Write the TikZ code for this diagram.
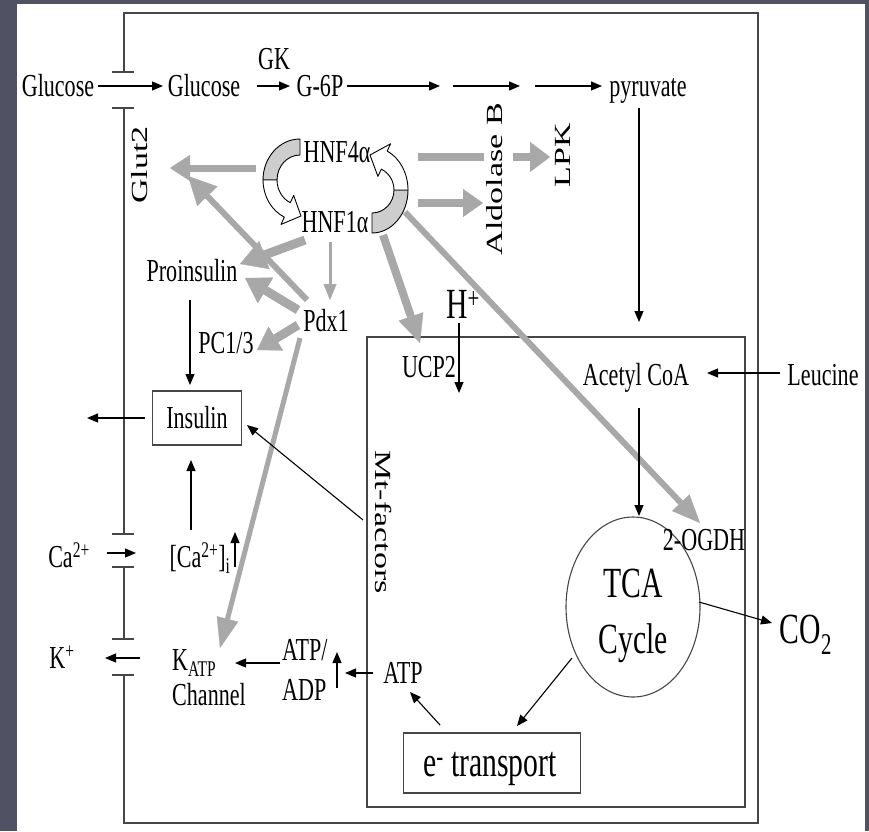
\documentclass[tikz,border=0pt]{standalone}
\usepackage{fontspec}
\setmainfont{Liberation Serif}[FakeStretch=0.69]
\newfontfamily\rotf{Liberation Serif}
\usetikzlibrary{arrows.meta,shapes.geometric,calc}
\definecolor{bgslate}{RGB}{80,82,100}
\definecolor{agray}{RGB}{168,168,168}
\definecolor{lgray}{RGB}{70,70,70}
\definecolor{ribgray}{RGB}{205,205,205}
\begin{document}
\begin{tikzpicture}[x=1pt,y=-1pt,
  txt/.style={inner sep=0pt, font=\fontsize{32}{38}\selectfont},
  bigtxt/.style={inner sep=0pt, font=\fontsize{43}{50}\selectfont},
  rtxt/.style={inner sep=0pt, font=\rotf\fontsize{34}{40}\selectfont},
  bar/.style={draw=lgray, line width=1.1pt},
  barr/.style={draw=black, line width=1.1pt, -{Triangle[length=11pt,width=9pt]}},
  garr/.style n args={3}{draw=agray, line width=#1, -{Triangle[length=#2,width=#3,line width=0.3pt]}},
  rib/.style={draw=black, line width=0.9pt, line join=round}
]
\useasboundingbox (0,0) rectangle (869,831);
\fill[bgslate] (0,0) rectangle (869,831);
\fill[white] (17,4) rectangle (865,831);

% ---- cell membrane and mitochondrion ----
\draw[bar] (124,72) -- (124,13) -- (758,13) -- (758,823) -- (124,823) -- (124,675);
\draw[bar] (124,108) -- (124,534);
\draw[bar] (124,567) -- (124,639);
\foreach \yy in {72,108,534,567,639,675} \draw[bar] (112,\yy) -- (134,\yy);
\draw[bar] (367,337) rectangle (745,807);

% ---- gray regulatory arrows ----
\coordinate (g1s) at (256,168); \coordinate (g1e) at (170,168);
\draw[garr={7pt}{20pt}{26pt}] (g1s) -- (g1e);
\draw[draw=agray, line width=8pt] (418,157) -- (484,157);
\coordinate (g2s) at (513,157); \coordinate (g2e) at (550,157);
\draw[garr={8pt}{20pt}{30pt}] (g2s) -- (g2e);
\coordinate (g3s) at (418,203); \coordinate (g3e) at (483,203);
\draw[garr={8pt}{20pt}{28pt}] (g3s) -- (g3e);
\coordinate (g4s) at (305,240); \coordinate (g4e) at (240,264);
\draw[garr={9pt}{26pt}{30pt}] (g4s) -- (g4e);
\coordinate (g5s) at (298,310); \coordinate (g5e) at (245,278);
\draw[garr={9pt}{24pt}{30pt}] (g5s) -- (g5e);
\coordinate (g6s) at (307,300); \coordinate (g6e) at (188,176);
\draw[garr={6pt}{28pt}{28pt}] (g6s) -- (g6e);
\coordinate (g7s) at (298,325); \coordinate (g7e) at (257,350);
\draw[garr={9pt}{22pt}{28pt}] (g7s) -- (g7e);
\coordinate (g8s) at (330,242); \coordinate (g8e) at (330,300);
\draw[garr={3pt}{16pt}{13pt}] (g8s) -- (g8e);
\coordinate (g9s) at (383,235); \coordinate (g9e) at (420,343);
\draw[garr={8pt}{28pt}{26pt}] (g9s) -- (g9e);
\coordinate (g10s) at (405,212); \coordinate (g10e) at (700,523);
\draw[garr={6pt}{28pt}{24pt}] (g10s) -- (g10e);
\coordinate (g11s) at (300,338); \coordinate (g11e) at (220,648);
\draw[garr={5pt}{30pt}{22pt}] (g11s) -- (g11e);

% ---- HNF ribbons ----
\coordinate (rl) at (300,180);
\filldraw[rib, fill=ribgray] ($(rl)+(270:37 and 41)$) arc[start angle=270,end angle=180,x radius=37,y radius=41]
  -- ($(rl)+(180:23 and 25)$) arc[start angle=180,end angle=270,x radius=23,y radius=25] -- cycle;
\filldraw[rib, fill=white] ($(rl)+(180:37 and 41)$) arc[start angle=180,end angle=115,x radius=37,y radius=41]
  -- ($(rl)+(115:45 and 49)$) -- (301,216) -- ($(rl)+(115:15 and 17)$)
  -- ($(rl)+(115:23 and 25)$) arc[start angle=115,end angle=180,x radius=23,y radius=25] -- cycle;
\coordinate (rr) at (372,190);
\filldraw[rib, fill=ribgray] ($(rr)+(90:36 and 43)$) arc[start angle=90,end angle=0,x radius=36,y radius=43]
  -- ($(rr)+(0:22 and 23)$) arc[start angle=0,end angle=90,x radius=22,y radius=23] -- cycle;
\filldraw[rib, fill=white] ($(rr)+(0:36 and 43)$) arc[start angle=0,end angle=-65,x radius=36,y radius=43]
  -- ($(rr)+(-65:44 and 51)$) -- (370,155) -- ($(rr)+(-65:14 and 15)$)
  -- ($(rr)+(-65:22 and 23)$) arc[start angle=-65,end angle=0,x radius=22,y radius=23] -- cycle;

% ---- text nodes ----
\node[txt, anchor=base] (glc0) at (58,96) {Glucose};
\node[txt, anchor=base] (glc1) at (204,96) {Glucose};
\node[txt, anchor=base] (gk) at (274,69) {GK};
\node[txt, anchor=base] (g6p) at (320,96) {G-6P};
\node[txt, anchor=base] (pyr) at (648,96) {pyruvate};
\node[txt] (hnf4) at (337,152) {HNF4α};
\node[txt] (hnf1) at (335,222) {HNF1α};
\node[txt] (pdx) at (326,321) {Pdx1};
\node[txt] (proins) at (192,271) {Proinsulin};
\node[txt] (pc) at (226,343) {PC1/3};
\node[txt, draw=lgray, line width=1.1pt, minimum width=89pt, minimum height=54pt] (ins) at (197,418) {Insulin};
\node[txt, anchor=base] (cai) at (200,567) {[Ca\textsuperscript{2+}]\textsubscript{i}};
\node[txt, anchor=base] (ca) at (69,567) {Ca\textsuperscript{2+}};
\node[txt, anchor=base] (kp) at (62,668) {K\textsuperscript{+}};
\node[txt, anchor=base west] (katp) at (172,670) {K\textsubscript{ATP}};
\node[txt, anchor=base west] (chan) at (172,705) {Channel};
\node[txt, anchor=base west] (atpa) at (282,660) {ATP/};
\node[txt, anchor=base west] (adp) at (282,700) {ADP};
\node[txt, anchor=base] (atp) at (403,683) {ATP};
\node[txt] (ucp) at (429,367) {UCP2};
\node[bigtxt, anchor=base] (hp) at (463,318) {H\textsuperscript{+}};
\node[txt, anchor=base] (acoa) at (636,385) {Acetyl CoA};
\node[txt, anchor=base] (leu) at (823,385) {Leucine};
\node[draw=lgray, line width=1.1pt, ellipse, minimum width=134pt, minimum height=180pt, inner sep=0pt] (tca) at (633,607) {};
\node[bigtxt, anchor=base] (tcaA) at (633,597) {TCA};
\node[bigtxt, anchor=base] (tcaB) at (633,653) {Cycle};
\node[txt, anchor=base] (ogdh) at (704,550) {2-OGDH};
\node[bigtxt, anchor=base] (co2) at (806,643) {CO\textsubscript{2}};
\node[draw=lgray, line width=1.1pt, minimum width=177pt, minimum height=60pt] (etr) at (492,763) {};
\node[bigtxt, anchor=base] (etrt) at (490,776) {e\textsuperscript{-} transport};
\node[rtxt] (glut) at (140,165) {\rotatebox{90}{\scalebox{1}[0.68]{Glut2}}};
\node[rtxt] (aldo) at (495,179) {\rotatebox{90}{\scalebox{1}[0.68]{Aldolase B}}};
\node[rtxt] (lpk) at (563,155) {\rotatebox{90}{\scalebox{1}[0.68]{LPK}}};
\node[rtxt] (mtf) at (384,522) {\rotatebox{-90}{\scalebox{1}[0.68]{Mt-factors}}};

% ---- black arrows ----
\coordinate (c1) at (440,86); \coordinate (c2) at (453,86);
\coordinate (c3) at (520,86); \coordinate (c4) at (535,86);
\draw[barr] (98,86) -- (163,86);
\draw[barr] (257,86) -- (290,86);
\draw[barr] (347,86) -- (c1);
\draw[barr] (c2) -- (c3);
\draw[barr] (c4) -- (602,86);
\draw[barr] (639,108) -- (639,322);
\draw[barr] (780,373) -- (707,373);
\draw[barr] (639,408) -- (639,516);
\draw[barr] (699,602) -- (772,623);
\draw[barr] (572,658) -- (517,726);
\draw[barr] (440,725) -- (410,692);
\draw[barr] (373,673) -- (345,673);
\draw[barr] (337,688) -- (337,652);
\draw[barr] (280,663) -- (235,663);
\draw[barr] (140,658) -- (105,658);
\draw[barr] (107,553) -- (136,553);
\draw[barr] (235,567) -- (235,532);
\draw[barr] (191,530) -- (191,460);
\draw[barr] (145,418) -- (87,418);
\draw[barr] (190,300) -- (190,385);
\draw[barr] (363,520) -- (247,425);
\draw[barr] (459,323) -- (459,393);
\end{tikzpicture}
\end{document}
